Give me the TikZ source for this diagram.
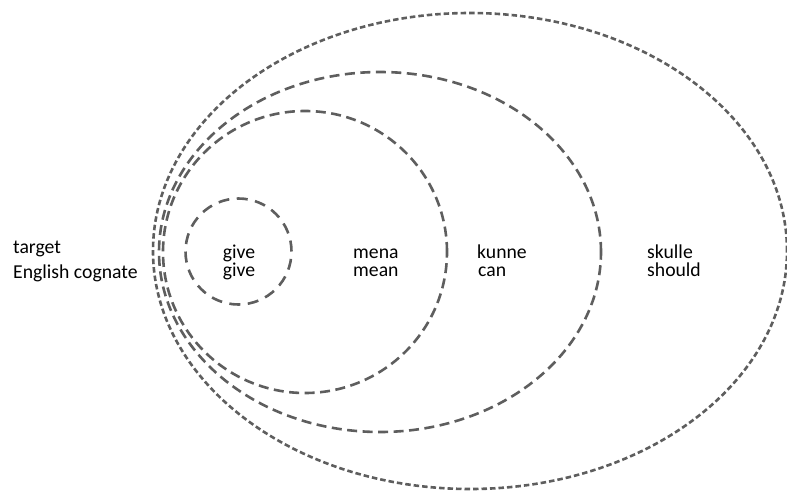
\documentclass[tikz,border=0pt]{standalone}
\usepackage{fontspec}
\setmainfont{Carlito}
\begin{document}
\begin{tikzpicture}[x=1pt,y=-1pt,
  ring/.style={draw=ringgray,line width=2.6pt},
  fine/.style={dash pattern=on 5.5pt off 3pt},
  coarse/.style={dash pattern=on 10pt off 5.5pt},
  sparse/.style={dash pattern=on 11pt off 7.5pt},
  lbl/.style={anchor=base west,inner sep=0pt,font=\fontsize{19.7}{24}\selectfont,text=black},
  clbl/.style={anchor=base,inner sep=0pt,font=\fontsize{19.7}{24}\selectfont,text=black}]
\definecolor{ringgray}{HTML}{5E5E5E}
\useasboundingbox (0,0) rectangle (787,490);
\begin{scope}
\clip (0,0) rectangle (787,490);
\draw[ring,fine] (470,251) ellipse [x radius=317pt,y radius=238pt];
\end{scope}
\draw[ring,coarse] (380,252) ellipse [x radius=221pt,y radius=180pt];
\draw[ring,coarse] (305,252) ellipse [x radius=142pt,y radius=141pt];
\draw[ring,sparse] (238.5,251.5) circle [radius=53pt];
\node[lbl] (t1) at (13,253.5) {target};
\node[lbl] (t2) at (13,278.5) {English cognate};
\node[clbl] (g1) at (239,258) {give};
\node[clbl] (g2) at (239,276.5) {give};
\node[lbl] (m1) at (353,258) {mena};
\node[lbl] (m2) at (353,276.5) {mean};
\node[lbl] (k1) at (477,258) {kunne};
\node[lbl] (k2) at (478,276.5) {can};
\node[lbl] (s1) at (647,258) {skulle};
\node[lbl] (s2) at (647,276.5) {should};
\end{tikzpicture}
\end{document}
